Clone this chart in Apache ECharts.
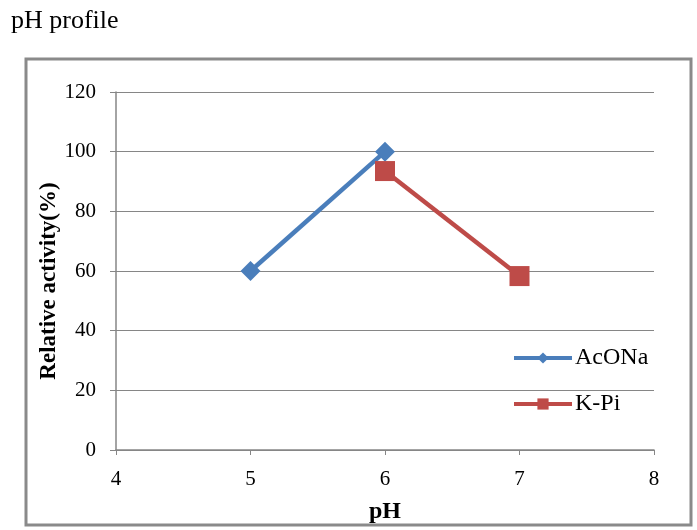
<!DOCTYPE html>
<html><head><meta charset="utf-8">
<script src="https://cdn.jsdelivr.net/npm/echarts@6/dist/echarts.min.js"></script>
<style>html,body{margin:0;padding:0;background:#fff}#c{width:697px;height:530px}</style>
</head><body><div id="c"></div>
<script>
const xTicks = [4, 5, 6, 7, 8];
const yTicks = [0, 20, 40, 60, 80, 100, 120];
const seriesNames = ['AcONa', 'K-Pi'];
const acOnaPH = [5, 6];
const acOnaValues = [60, 100];
const kPiPH = [6, 7];
const kPiValues = [93.5, 58.3];

const font = '"Liberation Serif", "DejaVu Serif", serif';
const chart = echarts.init(document.getElementById('c'));
chart.setOption({
  animation: false,
  backgroundColor: '#fff',
  textStyle: { fontFamily: font },
  title: { text: 'pH profile', left: 6, top: 3, textStyle: { fontFamily: font, fontSize: 26, fontWeight: 'normal', color: '#000' } },
  graphic: [{ type: 'rect', shape: { x: 26, y: 59, width: 665, height: 466 }, style: { fill: 'none', stroke: '#8a8a8a', lineWidth: 3 }, z: -1 }],
  grid: { left: 116, right: 43, top: 92, bottom: 80 },
  legend: {
    orient: 'vertical', left: 512, top: 346, padding: 0, itemGap: 22, itemWidth: 58, itemHeight: 14,
    lineStyle: { width: 4 },
    textStyle: { fontFamily: font, fontSize: 24, color: '#000', padding: [0, 0, 0, -2] },
    data: seriesNames
  },
  xAxis: {
    type: 'value', min: xTicks[0], max: xTicks[xTicks.length - 1], interval: 1,
    name: 'pH', nameLocation: 'middle', nameGap: 50,
    nameTextStyle: { fontFamily: font, fontSize: 24, fontWeight: 'bold', color: '#000' },
    axisLine: { lineStyle: { color: '#868686', width: 1.5 } },
    axisTick: { show: true, length: 5, lineStyle: { color: '#868686' } },
    axisLabel: { fontFamily: font, fontSize: 21, color: '#000', margin: 19 },
    splitLine: { show: false }
  },
  yAxis: {
    type: 'value', min: yTicks[0], max: yTicks[yTicks.length - 1], interval: 20,
    name: 'Relative activity(%)', nameLocation: 'middle', nameGap: 55, nameRotate: 90,
    nameMoveOverlap: false,
    nameTextStyle: { fontFamily: font, fontSize: 23, fontWeight: 'bold', color: '#000', padding: [0, 20, 0, 0] },
    axisLine: { show: true, lineStyle: { color: '#868686', width: 1.5 } },
    axisTick: { show: true, length: 6, lineStyle: { color: '#868686' } },
    axisLabel: { fontFamily: font, fontSize: 21, color: '#000', margin: 20 },
    splitLine: { show: true, lineStyle: { color: '#868686', width: 1 } }
  },
  series: [
    { name: seriesNames[0], type: 'line', data: acOnaPH.map((x, i) => [x, acOnaValues[i]]),
      symbol: 'diamond', symbolSize: 20, color: '#4a7ebb', lineStyle: { width: 4.5, color: '#4a7ebb' } },
    { name: seriesNames[1], type: 'line', data: kPiPH.map((x, i) => [x, kPiValues[i]]),
      symbol: 'rect', symbolSize: 20, color: '#be4b48', lineStyle: { width: 4.5, color: '#be4b48' } }
  ]
});
</script></body></html>
